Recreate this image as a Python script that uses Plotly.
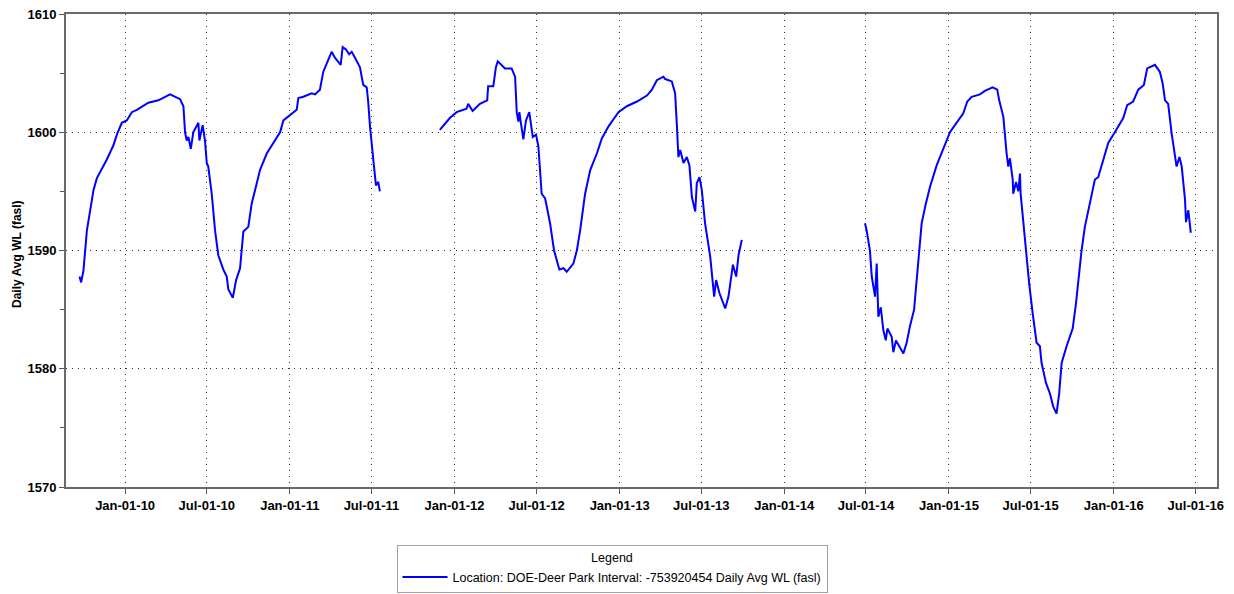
import pandas as pd
import plotly.graph_objects as go

# Time is given as decimal years, values in feet above sea level
seg1_t = [2009.723, 2009.733, 2009.747, 2009.757, 2009.768, 2009.788, 2009.808, 2009.828, 2009.848,
          2009.889, 2009.929, 2009.950, 2009.980, 2010.010, 2010.041, 2010.071, 2010.141, 2010.202,
          2010.273, 2010.303, 2010.334, 2010.354, 2010.364, 2010.374, 2010.384, 2010.399, 2010.414,
          2010.445, 2010.451, 2010.471, 2010.485, 2010.496, 2010.505, 2010.526, 2010.546, 2010.566,
          2010.596, 2010.617, 2010.627, 2010.654, 2010.674, 2010.698, 2010.718, 2010.748, 2010.769,
          2010.789, 2010.819, 2010.860, 2010.900, 2010.941, 2010.961, 2011.012, 2011.042, 2011.052,
          2011.082, 2011.133, 2011.153, 2011.183, 2011.203, 2011.224, 2011.254, 2011.274, 2011.309,
          2011.321, 2011.341, 2011.361, 2011.376, 2011.396, 2011.426, 2011.446, 2011.467, 2011.476,
          2011.487, 2011.507, 2011.523, 2011.537, 2011.547]
seg1_v = [1587.8, 1587.3, 1588.3, 1589.8, 1591.7, 1593.4, 1595.1, 1596.1, 1596.6,
          1597.7, 1598.9, 1599.8, 1600.8, 1601.0, 1601.7, 1601.9, 1602.5, 1602.7,
          1603.2, 1603.0, 1602.8, 1602.2, 1600.0, 1599.3, 1599.6, 1598.6, 1600.0,
          1600.8, 1599.3, 1600.6, 1599.3, 1597.4, 1597.1, 1594.8, 1591.7, 1589.6,
          1588.4, 1587.8, 1586.7, 1586.0, 1587.5, 1588.5, 1591.6, 1592.0, 1594.0,
          1595.1, 1596.8, 1598.2, 1599.1, 1600.0, 1601.0, 1601.6, 1601.9, 1602.9,
          1603.0, 1603.3, 1603.2, 1603.6, 1605.1, 1605.8, 1606.8, 1606.3, 1605.7,
          1607.2, 1607.0, 1606.6, 1606.8, 1606.3, 1605.5, 1604.0, 1603.8, 1602.6,
          1600.5, 1597.7, 1595.5, 1595.8, 1595.0]

seg2_t = [2011.911, 2011.972, 2012.013, 2012.073, 2012.083, 2012.110, 2012.154, 2012.198, 2012.204,
          2012.235, 2012.251, 2012.262, 2012.306, 2012.346, 2012.367, 2012.377, 2012.387, 2012.393,
          2012.401, 2012.417, 2012.433, 2012.453, 2012.474, 2012.494, 2012.508, 2012.528, 2012.549,
          2012.579, 2012.603, 2012.635, 2012.660, 2012.680, 2012.720, 2012.741, 2012.761, 2012.791,
          2012.822, 2012.862, 2012.893, 2012.933, 2012.993, 2013.044, 2013.105, 2013.166, 2013.196,
          2013.226, 2013.266, 2013.277, 2013.317, 2013.337, 2013.348, 2013.357, 2013.368, 2013.388,
          2013.408, 2013.424, 2013.439, 2013.459, 2013.469, 2013.485, 2013.499, 2013.519, 2013.550,
          2013.574, 2013.586, 2013.606, 2013.641, 2013.661, 2013.688, 2013.708, 2013.722, 2013.742]
seg2_v = [1600.2, 1601.2, 1601.7, 1602.0, 1602.4, 1601.8, 1602.4, 1602.7, 1603.9,
          1603.9, 1605.5, 1606.0, 1605.4, 1605.4, 1604.7, 1601.7, 1600.9, 1601.7,
          1600.9, 1599.4, 1601.0, 1601.7, 1599.6, 1599.8, 1598.8, 1594.8, 1594.4,
          1592.3, 1590.0, 1588.4, 1588.5, 1588.2, 1588.9, 1590.0, 1591.7, 1594.8,
          1596.8, 1598.2, 1599.5, 1600.5, 1601.7, 1602.2, 1602.6, 1603.1, 1603.6,
          1604.4, 1604.7, 1604.5, 1604.3, 1603.3, 1600.5, 1597.9, 1598.5, 1597.4,
          1597.9, 1597.2, 1594.5, 1593.3, 1595.7, 1596.2, 1595.1, 1592.3, 1589.5,
          1586.1, 1587.5, 1586.4, 1585.1, 1586.1, 1588.8, 1587.8, 1589.6, 1590.9]

seg3_t = [2014.490, 2014.500, 2014.520, 2014.531, 2014.551, 2014.561, 2014.571, 2014.586, 2014.601,
          2014.616, 2014.626, 2014.652, 2014.662, 2014.678, 2014.698, 2014.723, 2014.743, 2014.763,
          2014.788, 2014.804, 2014.824, 2014.834, 2014.860, 2014.885, 2014.925, 2014.965, 2015.006,
          2015.036, 2015.087, 2015.111, 2015.138, 2015.188, 2015.218, 2015.265, 2015.293, 2015.305,
          2015.330, 2015.350, 2015.360, 2015.370, 2015.387, 2015.390, 2015.407, 2015.421, 2015.431,
          2015.435, 2015.451, 2015.467, 2015.487, 2015.508, 2015.522, 2015.532, 2015.552, 2015.562,
          2015.589, 2015.613, 2015.633, 2015.653, 2015.669, 2015.684, 2015.714, 2015.751, 2015.771,
          2015.785, 2015.805, 2015.825, 2015.845, 2015.876, 2015.886, 2015.906, 2015.937, 2015.967,
          2016.007, 2016.058, 2016.082, 2016.118, 2016.149, 2016.183, 2016.203, 2016.250, 2016.280,
          2016.297, 2016.311, 2016.330, 2016.351, 2016.371, 2016.381, 2016.398, 2016.412, 2016.432,
          2016.438, 2016.452, 2016.467]
seg3_v = [1592.3, 1591.7, 1590.0, 1587.8, 1586.1, 1588.9, 1584.4, 1585.2, 1583.3,
          1582.4, 1583.4, 1582.7, 1581.4, 1582.4, 1581.9, 1581.3, 1582.2, 1583.6,
          1585.0, 1587.8, 1590.6, 1592.3, 1594.0, 1595.4, 1597.2, 1598.6, 1600.0,
          1600.6, 1601.6, 1602.6, 1603.0, 1603.2, 1603.5, 1603.8, 1603.6, 1602.7,
          1601.3, 1598.2, 1597.1, 1597.8, 1596.0, 1594.8, 1595.8, 1595.0, 1596.5,
          1594.8, 1592.3, 1590.0, 1587.2, 1584.7, 1583.3, 1582.2, 1581.9, 1580.5,
          1578.8, 1577.9, 1576.8, 1576.2, 1577.9, 1580.5, 1581.9, 1583.4, 1585.5,
          1587.5, 1590.0, 1592.0, 1593.4, 1595.4, 1596.0, 1596.2, 1597.7, 1599.1,
          1600.0, 1601.2, 1602.3, 1602.6, 1603.6, 1604.0, 1605.4, 1605.7, 1605.1,
          1604.1, 1602.7, 1602.4, 1599.9, 1597.9, 1597.1, 1597.9, 1597.1, 1594.3,
          1592.4, 1593.4, 1591.5]

tick_dates = ["2010-01-01", "2010-07-01", "2011-01-01", "2011-07-01", "2012-01-01", "2012-07-01",
              "2013-01-01", "2013-07-01", "2014-01-01", "2014-07-01", "2015-01-01", "2015-07-01",
              "2016-01-01", "2016-07-01"]
tick_labels = ["Jan-01-10", "Jul-01-10", "Jan-01-11", "Jul-01-11", "Jan-01-12", "Jul-01-12",
               "Jan-01-13", "Jul-01-13", "Jan-01-14", "Jul-01-14", "Jan-01-15", "Jul-01-15",
               "Jan-01-16", "Jul-01-16"]
x_range = ["2009-08-23", "2016-08-17"]
y_range = [1570, 1610]
y_title = "Daily Avg WL (fasl)"
series_name = "Location: DOE-Deer Park Interval: -753920454 Daily Avg WL (fasl)"


def to_date(t):
    year = int(t)
    start = pd.Timestamp(year=year, month=1, day=1)
    days = (pd.Timestamp(year=year + 1, month=1, day=1) - start).days
    return start + pd.Timedelta(days=(t - year) * days)


xs, ys = [], []
for seg_t, seg_v in [(seg1_t, seg1_v), (seg2_t, seg2_v), (seg3_t, seg3_v)]:
    if xs:
        xs.append(None)
        ys.append(None)
    xs.extend(to_date(t) for t in seg_t)
    ys.extend(seg_v)

fig = go.Figure()
fig.add_trace(go.Scatter(x=xs, y=ys, mode="lines", name=series_name,
                         line=dict(color="#0000FF", width=2), connectgaps=False,
                         showlegend=True))

FONT = "Liberation Sans, Arial, sans-serif"
axis_font = dict(family=FONT, size=13, color="#000000", weight="bold")

fig.update_layout(
    width=1234, height=594,
    margin=dict(l=66, r=17, t=14, b=107, autoexpand=False),
    paper_bgcolor="white", plot_bgcolor="white",
    font=dict(family=FONT, size=12, color="#000000"),
    showlegend=True,
    legend=dict(
        title=dict(text="Legend", side="top center",
                   font=dict(family=FONT, size=12.5, color="#000")),
        xref="container", yref="container",
        x=612 / 1234, xanchor="center", y=(594 - 545) / 594, yanchor="top",
        bordercolor="#a0a0a0", borderwidth=1, bgcolor="white",
        font=dict(family=FONT, size=12.5, color="#000"),
        itemwidth=45,
    ),
    xaxis=dict(
        range=x_range, type="date", automargin=False,
        tickvals=tick_dates, ticktext=tick_labels,
        ticks="outside", ticklen=5, tickcolor="#555555",
        tickfont=axis_font,
        showgrid=True, gridcolor="#333333", griddash="1px,5px", gridwidth=1,
        showline=True, linecolor="#6a6a6a", linewidth=2, mirror=True,
        zeroline=False,
    ),
    yaxis=dict(
        range=y_range, dtick=10, tick0=1570, automargin=False,
        ticks="outside", ticklen=5, tickcolor="#555555",
        tickfont=axis_font,
        minor=dict(dtick=5, tick0=1570, ticks="outside", ticklen=4, tickcolor="#555555", showgrid=False),
        showgrid=True, gridcolor="#333333", griddash="1px,5px", gridwidth=1,
        showline=True, linecolor="#6a6a6a", linewidth=2, mirror=True,
        zeroline=False,
    ),
    annotations=[dict(
        text=y_title, textangle=-90, showarrow=False,
        xref="paper", yref="paper", x=(17 - 66) / 1151, y=(487 - 254) / 473,
        xanchor="center", yanchor="middle",
        font=dict(family=FONT, size=12, color="#000", weight="bold"),
    )],
)

fig.write_html("out.html", config={"displayModeBar": False},
               post_script="document.body.style.margin='0';document.body.style.overflow='hidden';")
